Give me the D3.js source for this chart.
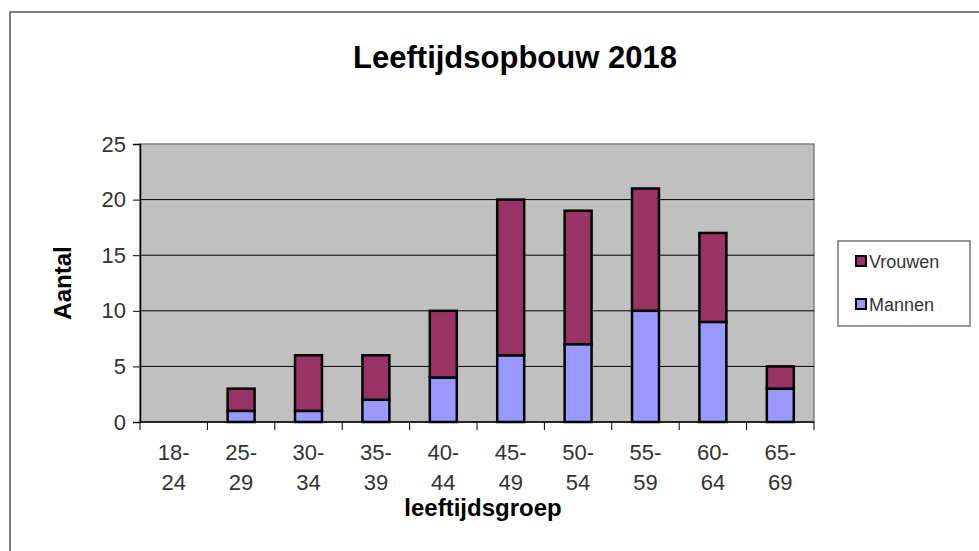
<!DOCTYPE html>
<html>
<head>
<meta charset="utf-8">
<script src="https://cdn.jsdelivr.net/npm/d3@7"></script>
<style>
  body { margin: 0; background: #fff; }
  svg text { font-family: "Liberation Sans", Arial, sans-serif; }
</style>
</head>
<body>
<svg id="chart" width="979" height="551"></svg>
<script>
// age groups (two-line labels)
const groups = ["18-24", "25-29", "30-34", "35-39", "40-44", "45-49", "50-54", "55-59", "60-64", "65-69"];
const mannen = [0, 1, 1, 2, 4, 6, 7, 10, 9, 3];
const vrouwen = [0, 2, 5, 4, 6, 14, 12, 11, 8, 2];
const yTicks = [0, 5, 10, 15, 20, 25];
const seriesNames = ["Mannen", "Vrouwen"];
const seriesColors = { Mannen: "#9999ff", Vrouwen: "#993366" };

const svg = d3.select("#chart");

// outer frame (only top/left visible in original)
svg.append("rect")
  .attr("x", 10).attr("y", 12)
  .attr("width", 1000).attr("height", 600)
  .attr("fill", "none")
  .attr("stroke", "#7f7f7f")
  .attr("stroke-width", 2);

let plot = { left: 140, top: 144, right: 814, bottom: 422 };

let x = d3.scaleBand()
  .domain(groups)
  .range([plot.left, plot.right])
  .paddingInner(0.6)
  .paddingOuter(0.3);

let band = d3.scaleBand().domain(groups).range([plot.left, plot.right]);

let y = d3.scaleLinear()
  .domain([0, 25])
  .range([plot.bottom, plot.top]);

// plot background
svg.append("rect")
  .attr("x", plot.left).attr("y", plot.top)
  .attr("width", plot.right - plot.left)
  .attr("height", plot.bottom - plot.top)
  .attr("fill", "#c0c0c0")
  .attr("stroke", "#808080")
  .attr("stroke-width", 1.5);

// gridlines
svg.append("g")
  .selectAll("line")
  .data(yTicks.filter(d => d > 0 && d < 25))
  .join("line")
  .attr("x1", plot.left).attr("x2", plot.right)
  .attr("y1", d => y(d)).attr("y2", d => y(d))
  .attr("stroke", "#000")
  .attr("stroke-width", 1);

// stacked data
let table = groups.map((g, i) => ({ group: g, Mannen: mannen[i], Vrouwen: vrouwen[i] }));
let stacked = d3.stack().keys(seriesNames)(table);

svg.append("g")
  .selectAll("g.layer")
  .data(stacked)
  .join("g")
  .classed("layer", true)
  .attr("fill", d => seriesColors[d.key])
  .selectAll("rect")
  .data(d => d.filter(s => s[1] > s[0]))
  .join("rect")
  .attr("x", d => x(d.data.group))
  .attr("width", x.bandwidth())
  .attr("y", d => y(d[1]))
  .attr("height", d => y(d[0]) - y(d[1]))
  .attr("stroke", "#000")
  .attr("stroke-width", 2.5);

// y axis
let yAxis = svg.append("g")
  .attr("transform", `translate(${plot.left},0)`)
  .call(d3.axisLeft(y).tickValues(yTicks).tickSize(7).tickPadding(7));
yAxis.select(".domain").attr("stroke", "#000").attr("stroke-width", 1.5);
yAxis.selectAll(".tick line").attr("stroke", "#000");
yAxis.selectAll("text")
  .attr("font-size", 22)
  .attr("fill", "#333");

// x axis: ticks at band boundaries
let xAxis = svg.append("g")
  .attr("transform", `translate(0,${plot.bottom})`);
xAxis.append("line")
  .attr("x1", plot.left).attr("x2", plot.right)
  .attr("stroke", "#000").attr("stroke-width", 1.5);
xAxis.selectAll("line.tick")
  .data(groups.map(g => band(g)).concat([plot.right]))
  .join("line")
  .classed("tick", true)
  .attr("x1", d => d).attr("x2", d => d)
  .attr("y1", 0).attr("y2", 8)
  .attr("stroke", "#000");

let lbl = xAxis.selectAll("text.cat")
  .data(groups)
  .join("text")
  .classed("cat", true)
  .attr("x", d => band(d) + band.bandwidth() / 2)
  .attr("y", 38)
  .attr("text-anchor", "middle")
  .attr("font-size", 22)
  .attr("fill", "#333");
lbl.append("tspan").text(d => d.split("-")[0] + "-");
lbl.append("tspan")
  .attr("x", d => band(d) + band.bandwidth() / 2)
  .attr("dy", 30)
  .text(d => d.split("-")[1]);

// titles
svg.append("text")
  .attr("x", 515).attr("y", 68)
  .attr("text-anchor", "middle")
  .attr("font-size", 31)
  .attr("font-weight", "bold")
  .text("Leeftijdsopbouw 2018");

svg.append("text")
  .attr("x", 483).attr("y", 516)
  .attr("text-anchor", "middle")
  .attr("font-size", 24)
  .attr("font-weight", "bold")
  .text("leeftijdsgroep");

svg.append("text")
  .attr("transform", "translate(71,283) rotate(-90)")
  .attr("text-anchor", "middle")
  .attr("font-size", 24)
  .attr("font-weight", "bold")
  .text("Aantal");

// legend
let legend = svg.append("g");
legend.append("rect")
  .attr("x", 838).attr("y", 241)
  .attr("width", 132).attr("height", 85)
  .attr("fill", "#fff")
  .attr("stroke", "#555")
  .attr("stroke-width", 1.2);

let items = legend.selectAll("g.item")
  .data(["Vrouwen", "Mannen"])
  .join("g")
  .classed("item", true)
  .attr("transform", (d, i) => `translate(859,${262 + i * 43})`);
items.append("rect")
  .attr("x", -3).attr("y", -6)
  .attr("width", 10).attr("height", 10)
  .attr("fill", d => seriesColors[d])
  .attr("stroke", "#000")
  .attr("stroke-width", 2);
items.append("text")
  .attr("x", 10).attr("y", 6)
  .attr("font-size", 18)
  .attr("fill", "#333")
  .text(d => d);
</script>
</body>
</html>
